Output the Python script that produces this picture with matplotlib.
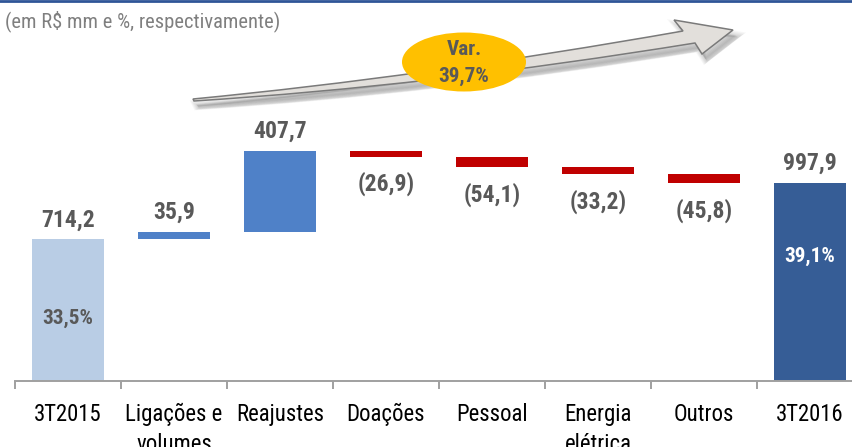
import matplotlib
matplotlib.use('Agg')
import matplotlib.pyplot as plt
from matplotlib import font_manager
from matplotlib.font_manager import FontProperties
from matplotlib.textpath import TextPath
from matplotlib.patches import Ellipse, PathPatch
from matplotlib.path import Path
from matplotlib.lines import Line2D
from matplotlib.transforms import Affine2D

# ---------------- data ----------------
categories = ['3T2015', 'Ligações e\nvolumes', 'Reajustes', 'Doações', 'Pessoal',
              'Energia\nelétrica', 'Outros', '3T2016']
values = [714.2, 35.9, 407.7, -26.9, -54.1, -33.2, -45.8, 997.9]
value_labels = ['714,2', '35,9', '407,7', '(26,9)', '(54,1)', '(33,2)', '(45,8)', '997,9']
margin_start_label = '33,5%'
margin_end_label = '39,1%'
variation_label = 'Var.\n39,7%'
subtitle = '(em R$ mm e %, respectivamente)'

# ---- font choice: prefer a condensed sans (reference uses a narrow face) ----
cond_names = ['Liberation Sans Narrow', 'Roboto Condensed', 'Open Sans Condensed',
              'Noto Sans', 'Open Sans', 'Roboto', 'DejaVu Sans']
family, stretch = 'Liberation Sans', 'normal'
entries = font_manager.fontManager.ttflist
found = False
for nm in cond_names:
    for f in entries:
        st = f.stretch
        is_cond = (isinstance(st, str) and 'condensed' in st) or (isinstance(st, (int, float)) and st < 500)
        if f.name == nm and (is_cond or 'Narrow' in nm or 'Condensed' in nm):
            family, stretch = nm, 'condensed'
            found = True
            break
    if found:
        break
plt.rcParams['font.family'] = [family, 'Liberation Sans', 'DejaVu Sans']
plt.rcParams['font.stretch'] = stretch


def fit(text, target_px, weight='normal'):
    """font size (pt) so that text is target_px wide at dpi 100"""
    tp = TextPath((0, 0), text, size=100,
                  prop=FontProperties(family=[family, 'Liberation Sans'], weight=weight, stretch=stretch))
    w = tp.get_extents().width  # in points at size 100
    return 100 * target_px / (w * 100 / 72)


fs_tick = fit('3T2015', 66)
fs_val = fit('714,2', 52, 'bold')
fs_in = fit('33,5%', 49, 'bold')
fs_sub = fit(subtitle, 272)
fs_var = fit('39,7%', 49, 'bold')

W, H = 852, 447
fig = plt.figure(figsize=(W / 100, H / 100), dpi=100)

# main axes (pixel geometry of the reference)
base_px = 381
scale = 0.1985  # px per unit
left_px, right_px = 15, 863
ax = fig.add_axes([left_px / W, (H - base_px) / H, (right_px - left_px) / W, base_px / H])
ax.set_xlim(-0.5, len(categories) - 0.5)
ax.set_ylim(0, base_px / scale)

# waterfall geometry
n = len(values)
bottoms, heights, colors = [], [], []
running = 0.0
for i, v in enumerate(values):
    if i == 0:
        bottoms.append(0); heights.append(v); colors.append('#B9CDE5'); running = v
    elif i == n - 1:
        bottoms.append(0); heights.append(v); colors.append('#365D96')
    else:
        if v >= 0:
            bottoms.append(running); heights.append(v); colors.append('#4F81C8')
        else:
            bottoms.append(running + v); heights.append(-v); colors.append('#C00000')
        running += v

x = list(range(n))
ax.bar(x, heights, bottom=bottoms, width=0.68, color=colors, edgecolor='none', zorder=2)

# value labels
for i, v in enumerate(values):
    top = bottoms[i] + heights[i]
    if v >= 0:
        ax.annotate(value_labels[i], (x[i], top), xytext=(0, 14), textcoords='offset points',
                    ha='center', va='center', fontsize=fs_val, fontweight='bold', color='#595959')
    else:
        ax.annotate(value_labels[i], (x[i], bottoms[i]), xytext=(0, -20), textcoords='offset points',
                    ha='center', va='center', fontsize=fs_val, fontweight='bold', color='#595959')

ax.text(x[0], values[0] * 0.44, margin_start_label, ha='center', va='center',
        fontsize=fs_in, fontweight='bold', color='#595959')
ax.text(x[-1], values[-1] * 0.63, margin_end_label, ha='center', va='center',
        fontsize=fs_in, fontweight='bold', color='white')

# axes styling
for s in ['top', 'right', 'left']:
    ax.spines[s].set_visible(False)
ax.spines['bottom'].set_color('#A0A0A0')
ax.spines['bottom'].set_linewidth(1.4)
ax.set_yticks([])
ax.set_xticks(x)
ax.set_xticklabels(categories, fontsize=fs_tick, color='black', linespacing=1.35)
ax.tick_params(axis='x', which='major', length=0, pad=16)
ax.set_xticks([i - 0.5 for i in range(n + 1)], minor=True)
ax.tick_params(axis='x', which='minor', length=5.5, width=1.4, color='#A0A0A0', direction='out')
ax.patch.set_alpha(0)

# ---------------- overlay (decorations in pixel space) ----------------
ov = fig.add_axes([0, 0, 1, 1], zorder=5)
ov.set_xlim(0, W)
ov.set_ylim(H, 0)
ov.axis('off')
ov.patch.set_alpha(0)

ov.add_line(Line2D([0, W], [1.2, 1.2], color='#2F5597', lw=2.0))
ov.text(5, 21, subtitle, ha='left', va='center', fontsize=fs_sub, color='#7F7F7F')

# curved arrow
verts = [(193, 99), (422, 77), (683, 31), (674, 20), (733, 30), (702, 54), (695, 43),
         (430, 86), (194, 101), (193, 99)]
codes = [Path.MOVETO, Path.CURVE3, Path.CURVE3, Path.LINETO, Path.LINETO, Path.LINETO,
         Path.LINETO, Path.CURVE3, Path.CURVE3, Path.CLOSEPOLY]
arrow_path = Path(verts, codes)
for j in range(6):
    sh = arrow_path.transformed(Affine2D().translate(3 + j * 0.4, 5 + j * 0.4))
    ov.add_patch(PathPatch(sh, facecolor='#000000', edgecolor='#000000', lw=6 - j,
                           alpha=0.03, zorder=1))
ov.add_patch(PathPatch(arrow_path, facecolor='#E2DFDB', edgecolor='#7A7A7A', lw=1.1, zorder=2,
                       joinstyle='miter'))

ov.add_patch(Ellipse((464, 62), 124, 59, facecolor='#FFC000', edgecolor='none', zorder=3))
ov.text(464, 63, variation_label, ha='center', va='center', fontsize=fs_var, fontweight='bold',
        color='#595959', linespacing=1.5, zorder=4)

fig.savefig('out.png', dpi=100)
